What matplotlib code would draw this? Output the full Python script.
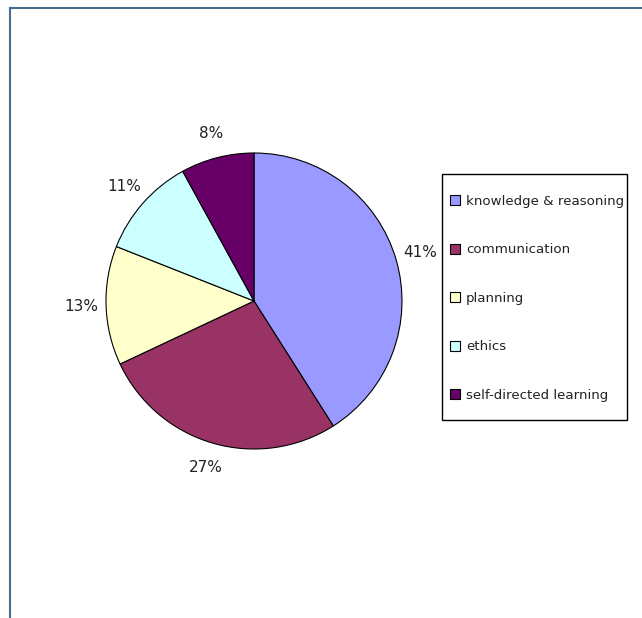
import matplotlib.pyplot as plt
from matplotlib.lines import Line2D
from matplotlib.patches import Rectangle

# Data
categories = ['knowledge & reasoning', 'communication', 'planning', 'ethics', 'self-directed learning']
shares = [41, 27, 13, 11, 8]
colors = ['#9999FF', '#993366', '#FFFFCC', '#CCFFFF', '#660066']

W, H = 642, 618
fig = plt.figure(figsize=(W / 100, H / 100), dpi=100)

# Pie placement (center 254,301 px, radius 148 px)
cx, cy, r = 254, 301, 148
ax = fig.add_axes([(cx - r) / W, (H - cy - r) / H, 2 * r / W, 2 * r / H])

wedges, texts, autotexts = ax.pie(
    shares, colors=colors, startangle=90, counterclock=False,
    autopct='%d%%', pctdistance=1.17,
    wedgeprops=dict(edgecolor='black', linewidth=0.8),
    textprops=dict(fontsize=11, color='#222222'),
)
ax.set_xlim(-1, 1)
ax.set_ylim(-1, 1)
ax.set_aspect('equal')
for t in autotexts:
    t.set_clip_on(False)

# Legend box drawn by hand, entries from a frameless legend
fig.add_artist(Rectangle((442 / W, 1 - 420 / H), 185 / W, 246 / H, transform=fig.transFigure,
                         facecolor='white', edgecolor='black', linewidth=1.0))
handles = [Line2D([], [], marker='s', linestyle='none', markersize=7.5,
                  markerfacecolor=c, markeredgecolor='black', markeredgewidth=0.8)
           for c in colors]
leg = fig.legend(handles, categories, loc='upper left',
                 bbox_to_anchor=(450 / W, 1 - 195 / H),
                 frameon=False, fontsize=9.6, labelspacing=2.66, borderpad=0,
                 handlelength=0.75, handletextpad=0.45, borderaxespad=0)
for t in leg.get_texts():
    t.set_color('#222222')

# Outer frame lines (top and left)
fig.add_artist(Line2D([10 / W, 1], [1 - 8 / H, 1 - 8 / H], color='#4a6b8c', linewidth=1.5))
fig.add_artist(Line2D([10 / W, 10 / W], [0, 1 - 8 / H], color='#4a6b8c', linewidth=1.5))

fig.savefig('out.png', dpi=100)
